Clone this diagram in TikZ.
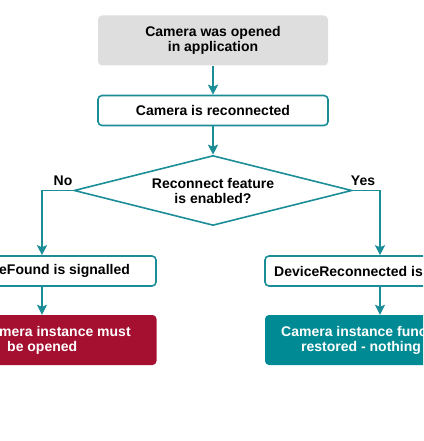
\documentclass[tikz,border=0pt]{standalone}
\usepackage{fontspec}
\setmainfont{Liberation Sans}
\usetikzlibrary{arrows.meta,positioning,shapes.geometric}
\definecolor{flowteal}{HTML}{1A8D96}
\definecolor{okteal}{HTML}{008B94}
\definecolor{failred}{HTML}{A51030}
\definecolor{startgray}{HTML}{DEDEDE}
\newcommand{\boxfont}{\fontsize{14}{15}\selectfont\bfseries}
\tikzset{
  box/.style={rounded corners=4pt,align=center,inner sep=0pt,minimum height=30pt,font=\boxfont,text=black},
  startbox/.style={box,fill=startgray,minimum width=230pt,minimum height=50pt},
  stepbox/.style={box,draw=flowteal,line width=1.6pt,fill=white,minimum width=230pt},
  failbox/.style={box,fill=failred,minimum height=50pt,text=white},
  okbox/.style={box,fill=okteal,minimum height=50pt,text=white},
  decision/.style={diamond,draw=flowteal,line width=1.6pt,fill=white,aspect=4,inner sep=0pt,minimum width=278pt,minimum height=70pt,align=center,font=\boxfont},
  boxtext/.style={inner sep=0pt,align=left,font=\boxfont},
  answer/.style={inner sep=0pt,font=\boxfont},
  flow/.style={-{Stealth[length=10pt,width=10pt,inset=2pt]},line width=1.6pt,draw=flowteal}
}
\begin{document}
\begin{tikzpicture}[x=1pt,y=-1pt]
  \useasboundingbox (0,0) rectangle (423,441);
  \clip (0,0) rectangle (423,441);

  \node[startbox] (opened) at (213,40.5) {Camera was opened\\in application};
  \node[stepbox] (reconn) at (213,110.5) {Camera is reconnected};
  \node[decision] (enabled) at (213,190.5) {Reconnect feature\\is enabled?};
  \draw[flow] (opened) -- (reconn);
  \draw[flow] (reconn) -- (enabled);

  % No branch
  \node[stepbox,minimum width=228pt] (notfound) at (42,271) {};
  \node[boxtext,anchor=west] (notfoundtext) at (-1,271) {eFound is signalled};
  \node[failbox,minimum width=229pt] (reopen) at (42,340) {};
  \node[boxtext,anchor=west,text=white] (reopentext) at (-1,340) {mera instance must\\\hspace*{8pt}be opened};
  \node[answer] (no) at (63,181) {No};
  \draw[flow] (enabled.west) -| (notfound.north);
  \draw[flow] (notfound) -- (reopen);

  % Yes branch
  \node[stepbox] (back) at (380,271) {};
  \node[boxtext,anchor=west] (backtext) at (274,271) {DeviceReconnected is};
  \node[okbox,minimum width=230pt] (restored) at (380,340) {};
  \node[boxtext,anchor=west,text=white] (restoredtext) at (281,340) {Camera instance func\\\hspace*{20pt}restored - nothing};
  \node[answer] (yes) at (363,181) {Yes};
  \draw[flow] (enabled.east) -| (back.north);
  \draw[flow] (back) -- (restored);
\end{tikzpicture}
\end{document}
